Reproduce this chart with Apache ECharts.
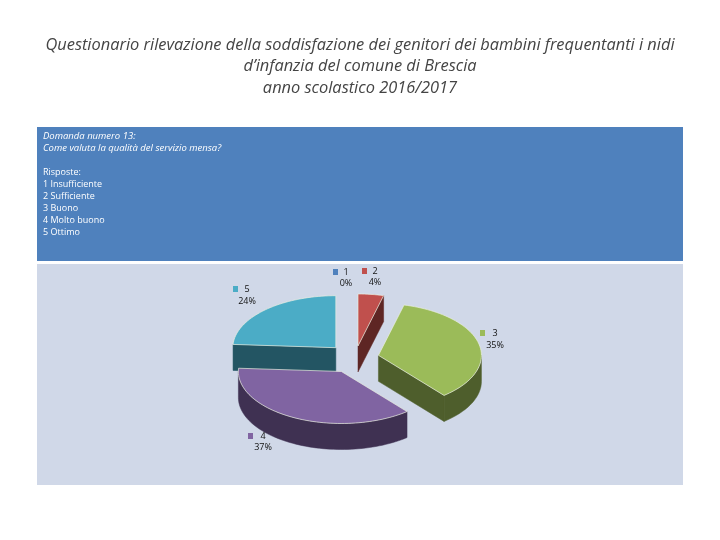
<!DOCTYPE html>
<html><head><meta charset="utf-8">
<style>html,body{margin:0;padding:0;background:#fff}#c{width:720px;height:540px}</style>
<script src="https://cdn.jsdelivr.net/npm/echarts@6/dist/echarts.min.js"></script>
</head><body><div id="c"></div>
<script>
const titleLines = ['Questionario rilevazione della soddisfazione dei genitori dei bambini frequentanti i nidi','d’infanzia del comune di Brescia','anno scolastico 2016/2017'];
const questionLines = ['Domanda numero 13:','Come valuta la qualità del servizio mensa?'];
const answerLines = ['Risposte:','1 Insufficiente','2 Sufficiente','3 Buono','4 Molto buono','5 Ottimo'];
const categories = ['1','2','3','4','5'];
const values = [0,4,35,37,24];
const topColors = ['#4f81bd','#c0504d','#9bbb59','#8064a2','#4bacc6'];
const sideColors = ['#2a4466','#5e2624','#4e5e2c','#3f3152','#235563'];
const explode = [0,24,24,30,28];
const labelAnchors = [[335,272],[364,271],[482,333],[250,436],[235,289]];
const labelOffsets = [[11,11],[11,11],[13,12],[13,11],[12,12]];

const CX=355, CY=358, RX=103, RY=52, DEPTH=26, RAD=Math.PI/180;
const total = values.reduce((a,b)=>a+b,0);
const pt=(c,deg)=>[c[0]+RX*Math.sin(deg*RAD), c[1]-RY*Math.cos(deg*RAD)];
const arc=(c,a,b)=>{const n=Math.max(2,Math.ceil(Math.abs(b-a)/2));const o=[];for(let i=0;i<=n;i++)o.push(pt(c,a+(b-a)*i/n));return o;};
const down=p=>[p[0],p[1]+DEPTH];
let acc=0;
const spans=values.map(v=>{const s=acc/total*360;acc+=v;return [s,acc/total*360];});
const edge='rgba(235,240,225,0.85)';
function renderItem(params,api){
  const i=api.value(0);
  const [a,b]=spans[i];
  if(b-a<=0) return {type:'group',children:[]};
  const mid=(a+b)/2;
  const c=[CX+explode[i]*Math.sin(mid*RAD), CY-explode[i]*Math.cos(mid*RAD)*RY/RX];
  const kids=[];
  const poly=(points,fill,stroke)=>kids.push({type:'polygon',shape:{points},style:{fill,stroke:stroke||fill,lineWidth:stroke?0.8:0.5}});
  const wall=(p,q)=>poly([p,q,down(q),down(p)],sideColors[i]);
  if(a>180) wall(c,pt(c,a));
  if(b<180) wall(c,pt(c,b));
  const s=Math.max(a,90), e=Math.min(b,270);
  if(e>s){const ar=arc(c,s,e);poly(ar.concat(ar.map(down).reverse()),sideColors[i]);}
  poly([c].concat(arc(c,a,b)),topColors[i],edge);
  return {type:'group',children:kids};
}
const order=[4,1,2,3];
const labelGraphics=[];
categories.forEach((cat,i)=>{
  const [x,y]=labelAnchors[i],[dx,dy]=labelOffsets[i];
  labelGraphics.push({type:'rect',shape:{x:x-2,y:y-3,width:5,height:6},style:{fill:topColors[i]},z:5});
  labelGraphics.push({type:'text',x:x+dx,y:y,style:{text:cat,font:'9px "Open Sans"',fill:'#111',align:'center',verticalAlign:'middle'},z:5});
  labelGraphics.push({type:'text',x:x+dx,y:y+dy,style:{text:values[i]+'%',font:'9px "Open Sans"',fill:'#111',align:'center',verticalAlign:'middle'},z:5});
});
const titleGraphics=titleLines.map((t,i)=>({type:'text',x:360,y:45+i*21.5,style:{text:t,font:'italic 16.4px "Open Sans"',fill:'#444',align:'center',verticalAlign:'middle'}}));
const qGraphics=questionLines.map((t,i)=>({type:'text',x:43,y:136+i*12,style:{text:t,font:'italic 9.5px "Open Sans"',fill:'#fff',verticalAlign:'middle'},z:3}));
const aGraphics=answerLines.map((t,i)=>({type:'text',x:43,y:172+i*12,style:{text:t,font:'9px "Open Sans"',fill:'#fff',verticalAlign:'middle'},z:3}));
const chart=echarts.init(document.getElementById('c'),null,{renderer:'canvas'});
chart.setOption({
  animation:false,backgroundColor:'#fff',
  graphic:[
    {type:'rect',shape:{x:37,y:127,width:646,height:134},style:{fill:'#4f81bd'},z:-1},
    {type:'rect',shape:{x:37,y:264,width:646,height:221},style:{fill:'#d0d8e8'},z:-1},
    ...titleGraphics,...qGraphics,...aGraphics,...labelGraphics
  ],
  series:[{type:'custom',coordinateSystem:'none',renderItem,silent:true,z:2,
    data:order.map(i=>[i,values[i]])}]
});
</script></body></html>
